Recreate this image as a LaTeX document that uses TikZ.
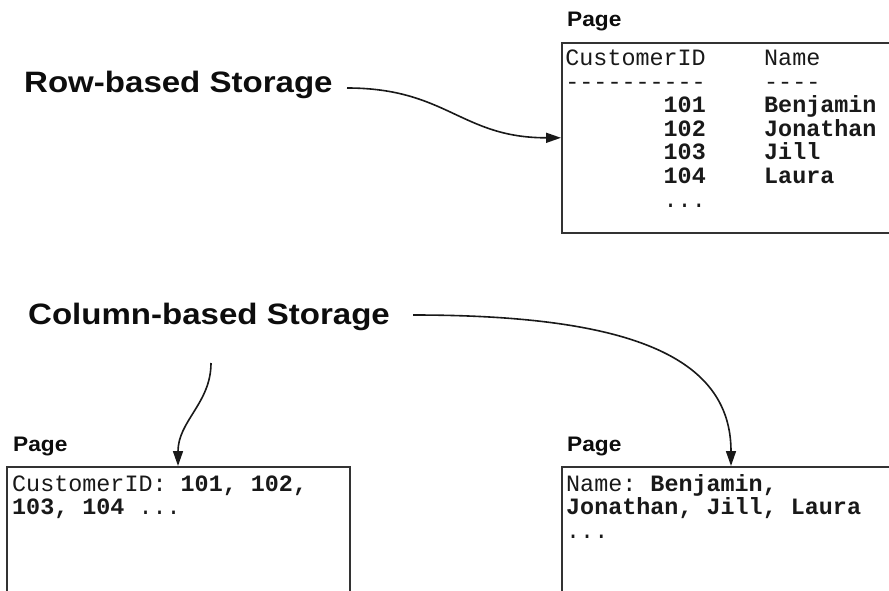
\documentclass[tikz,border=0pt]{standalone}
\usepackage{fontspec}
\setmainfont{Liberation Sans}
\newfontfamily\labfont[FakeStretch=1.12]{Liberation Sans}
\newfontfamily\pagefont[FakeStretch=1.08]{Liberation Sans}
\setmonofont{Liberation Mono}
\usetikzlibrary{arrows.meta}
\begin{document}
\begin{tikzpicture}[x=1pt,y=-1pt,
  title/.style={font=\labfont\bfseries\fontsize{29.5}{30}\selectfont, anchor=base west, inner sep=0, text=black!95},
  pagelab/.style={font=\pagefont\bfseries\fontsize{21}{22}\selectfont, anchor=base west, inner sep=0, text=black!95},
  pagebox/.style={draw=black!80, line width=1.6pt, rectangle, anchor=north west, inner sep=0},
  monol/.style={font=\ttfamily\fontsize{23.4}{23.5}\selectfont, inner sep=0, anchor=base west, text=black!90},
  monor/.style={monol, anchor=base east},
  conn/.style={line width=1.6pt, draw=black!90, -{Triangle[length=15pt,width=10pt]}}
]
\clip (0,0) rectangle (889,591);
\fill[white] (0,0) rectangle (889,591);

% titles
\node[title] (rowtitle) at (24,93) {Row-based Storage};
\node[title] (coltitle) at (28,324) {Column-based Storage};

% page labels
\node[pagelab] (pagetop) at (567,27) {Page};
\node[pagelab] (pageleft) at (13,451) {Page};
\node[pagelab] (pageright) at (567,451) {Page};

% boxes
\node[pagebox, minimum width=345pt, minimum height=190pt] (rowbox) at (561,42) {};
\node[pagebox, minimum width=343pt, minimum height=140pt] (leftbox) at (6,466) {};
\node[pagebox, minimum width=345pt, minimum height=140pt] (rightbox) at (561,466) {};

% top box contents
\node[monor] (h1) at (706,66) {CustomerID};
\node[monor] (d1) at (706,89.5) {----------};
\node[monor] (n1) at (706,113) {\textbf{101}};
\node[monor] (n2) at (706,136.5) {\textbf{102}};
\node[monor] (n3) at (706,160) {\textbf{103}};
\node[monor] (n4) at (706,183.5) {\textbf{104}};
\node[monor] (n5) at (706,207) {...};
\node[monol] (h2) at (764,66) {Name};
\node[monol] (d2) at (764,89.5) {----};
\node[monol] (m1) at (764,113) {\textbf{Benjamin}};
\node[monol] (m2) at (764,136.5) {\textbf{Jonathan}};
\node[monol] (m3) at (764,160) {\textbf{Jill}};
\node[monol] (m4) at (764,183.5) {\textbf{Laura}};

% bottom left contents
\node[monol] (l1) at (12,491) {CustomerID: \textbf{101, 102,}};
\node[monol] (l2) at (12,514.5) {\textbf{103, 104} ...};

% bottom right contents
\node[monol] (r1) at (566,491) {Name: \textbf{Benjamin,}};
\node[monol] (r2) at (566,514.5) {\textbf{Jonathan, Jill, Laura}};
\node[monol] (r3) at (566,538) {...};

% connectors
\coordinate (rowstart) at (347,88);
\coordinate (colstartR) at (413,315);
\coordinate (colstartL) at (211,363);
\coordinate (leftend) at (178,466);
\coordinate (rightend) at (731,466);

\draw[conn] (rowstart) .. controls +(100,0) and +(-100,0) .. (rowbox.west);
\draw[conn] (colstartR) .. controls +(215,0) and +(0,-110) .. (rightend);
\draw[conn] (colstartL) .. controls +(0,40) and +(0,-45) .. (leftend);
\end{tikzpicture}
\end{document}
